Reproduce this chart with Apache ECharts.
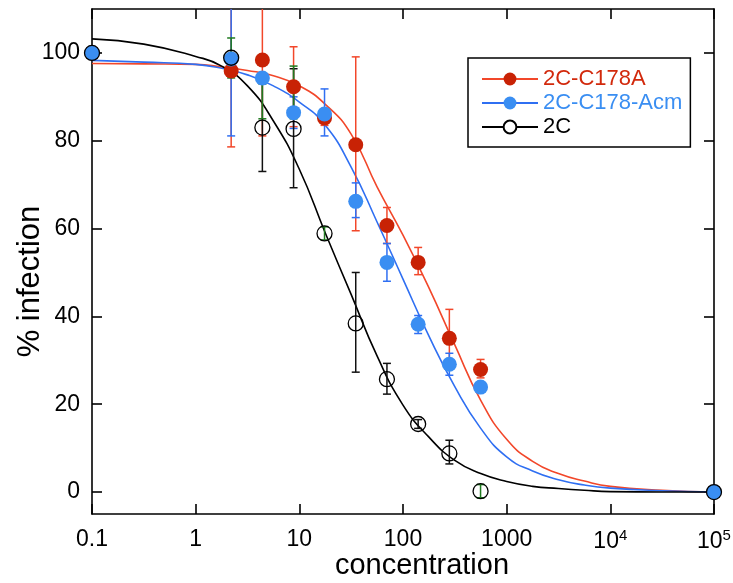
<!DOCTYPE html>
<html>
<head>
<meta charset="utf-8">
<script src="https://cdn.jsdelivr.net/npm/echarts@6/dist/echarts.min.js"></script>
<style>
  html, body { margin: 0; padding: 0; background: #fff; }
  #main { width: 733px; height: 583px; }
</style>
</head>
<body>
<div id="main"></div>
<script>
var FONT = 'Liberation Sans, Arial, Helvetica, sans-serif';

// concentrations of the measured points
var conc = [2.2, 4.4, 8.8, 17.5, 35, 70, 140, 280, 560];
// end points shared by the three sets
var anchorX = [0.1, 100000];
var anchorY = [100, 0];

// 2C-C178A
var redY = [95.9, 98.4, 92.3, 85.2, 79.1, 60.7, 52.3, 35.0, 27.9];
var redLow = [78.6, 81.1, 83.2, 83.5, 59.5, 56.6, 49.5, 28.4, 26.0];
var redHigh = [113, 115.7, 101.4, 87.0, 99.1, 64.8, 55.7, 41.6, 30.2];

// 2C-C178-Acm
var blueY = [98.6, 94.3, 86.4, 86.1, 66.2, 52.3, 38.2, 29.1, 23.9];
var blueLow = [81.1, null, 82.8, 81.1, 62.5, 48.0, 36.1, 26.6, null];
var blueHigh = [116, null, 90.0, 91.8, 70.4, 56.6, 40.2, 31.6, null];

// 2C
var blackY = [98.9, 83.0, 82.7, 58.9, 38.4, 25.7, 15.5, 8.8, 0.2];
var blackLow = [null, 73.0, 69.3, null, 27.3, 22.3, 14.5, 6.4, null];
var blackHigh = [null, 93.0, 96.4, null, 50.0, 29.3, 16.5, 11.8, null];
var greenLow = [94.3, 85.0, 85.0, 57.4, null, null, null, null, -1.3];
var greenHigh = [103.4, 93.0, 97.0, 60.4, null, null, null, null, 1.7];

// fitted curves, read every quarter decade
var curveX = [0.1, 0.316, 1, 1.78, 3.16, 5.62, 10, 17.8, 31.6, 56.2, 100, 178, 316, 562, 1000, 1780, 3160, 5620, 10000, 31600, 100000];
var redCurveY = [97.6, 97.5, 97.4, 96.8, 96.0, 94.8, 92.5, 88.3, 81.5, 69.5, 58.5, 46.5, 33.5, 20.9, 12.0, 7.0, 4.2, 2.5, 1.3, 0.4, 0];
var blueCurveY = [98.3, 97.9, 97.4, 96.5, 95.0, 92.5, 88.8, 83.5, 74.0, 61.5, 48.5, 35.5, 24.0, 14.5, 8.0, 4.8, 2.8, 1.6, 0.9, 0.3, 0];
var blackCurveY = [103.2, 102.0, 99.2, 97.0, 92.5, 84.5, 73.5, 59.0, 45.0, 31.0, 19.8, 12.5, 7.2, 4.2, 2.4, 1.3, 0.8, 0.4, 0.1, 0, 0];

var xTicks = [0.1, 1, 10, 100, 1000, 10000, 100000];
var yTicks = [0, 20, 40, 60, 80, 100];

var names = ['2C-C178A', '2C-C178-Acm', '2C'];
var lineColors = ['#f2472a', '#2f6ff2', '#000000'];
var dotColors = ['#c82205', '#3a8ef2', '#000000'];
var textColors = ['#d2290c', '#3a8ef2', '#000000'];

function zip(xs, ys) {
  var out = [];
  for (var i = 0; i < xs.length; i++) out.push([xs[i], ys[i]]);
  return out;
}
function bars(low, high) {
  var out = [];
  for (var i = 0; i < conc.length; i++) {
    if (low[i] != null) out.push([conc[i], low[i], high[i]]);
  }
  return out;
}
function points(ys) {
  return zip(conc, ys).concat(zip(anchorX, anchorY));
}

function errRender(color) {
  return function (params, api) {
    var x = api.value(0);
    var lo = api.coord([x, api.value(1)]);
    var hi = api.coord([x, api.value(2)]);
    var w = 4;
    var st = { stroke: color, lineWidth: 1.5 };
    return {
      type: 'group',
      children: [
        { type: 'line', shape: { x1: lo[0], y1: lo[1], x2: hi[0], y2: hi[1] }, style: st },
        { type: 'line', shape: { x1: lo[0] - w, y1: lo[1], x2: lo[0] + w, y2: lo[1] }, style: st },
        { type: 'line', shape: { x1: hi[0] - w, y1: hi[1], x2: hi[0] + w, y2: hi[1] }, style: st }
      ]
    };
  };
}

function supLabel(v) {
  var p = Math.round(Math.log10(v));
  if (p === -1) return '0.1';
  if (p <= 3) return String(Math.pow(10, p));
  return '10{sup|' + p + '}';
}

var axisLine = { show: true, onZero: false, lineStyle: { color: '#000', width: 1.6 } };
var tick = { show: true, inside: true, length: 10, lineStyle: { color: '#000', width: 1.6 } };

function curve(i, ys, itemStyle) {
  return {
    name: names[i], type: 'line', data: zip(curveX, ys),
    smooth: 0.5,
    symbol: 'circle', symbolSize: 14, showSymbol: false,
    itemStyle: itemStyle, lineStyle: { color: lineColors[i], width: 1.6 }, z: 2
  };
}

var chart = echarts.init(document.getElementById('main'));
chart.setOption({
  animation: false,
  backgroundColor: '#fff',
  grid: { left: 92, right: 19, top: 9, bottom: 69, outerBoundsMode: 'none', containLabel: false },
  legend: {
    data: names.map(function (n, i) { return { name: n, textStyle: { color: textColors[i] } }; }),
    orient: 'vertical',
    left: 468,
    top: 58,
    padding: [10, 8, 9, 13],
    itemGap: 2,
    itemWidth: 56,
    itemHeight: 16,
    borderColor: '#000',
    borderWidth: 1.5,
    borderRadius: 0,
    backgroundColor: '#fff',
    selectedMode: false,
    textStyle: { fontFamily: FONT, fontSize: 22, lineHeight: 22 }
  },
  xAxis: [{
    type: 'log',
    logBase: 10,
    min: 0.1,
    max: 100000,
    axisLine: axisLine,
    axisTick: Object.assign({ customValues: xTicks }, tick),
    splitLine: { show: false },
    axisLabel: {
      customValues: xTicks,
      margin: 14,
      color: '#000',
      fontFamily: FONT,
      fontSize: 23,
      formatter: supLabel,
      rich: { sup: { fontSize: 15, fontFamily: FONT, color: '#000', padding: [0, 0, 12, 0] } }
    },
    name: 'concentration',
    nameLocation: 'middle',
    nameMoveOverlap: false,
    nameGap: 37,
    nameTextStyle: { fontFamily: FONT, fontSize: 29, color: '#000', padding: [0, 0, 0, 38] }
  }, {
    type: 'log',
    logBase: 10,
    min: 0.1,
    max: 100000,
    position: 'top',
    axisLine: axisLine,
    axisTick: Object.assign({ customValues: xTicks }, tick),
    axisLabel: { show: false },
    splitLine: { show: false }
  }],
  yAxis: [{
    type: 'value',
    min: -5,
    max: 110,
    axisLine: axisLine,
    axisTick: Object.assign({ customValues: yTicks }, tick),
    splitLine: { show: false },
    axisLabel: { customValues: yTicks, margin: 12, color: '#000', fontFamily: FONT, fontSize: 23 },
    name: '% infection',
    nameLocation: 'middle',
    nameMoveOverlap: false,
    nameRotate: 90,
    nameGap: 46,
    nameTextStyle: { fontFamily: FONT, fontSize: 31, color: '#000', padding: [0, 40, 0, 0] }
  }, {
    type: 'value',
    min: -5,
    max: 110,
    position: 'right',
    axisLine: axisLine,
    axisTick: Object.assign({ customValues: yTicks }, tick),
    axisLabel: { show: false },
    splitLine: { show: false }
  }],
  series: [
    curve(0, redCurveY, { color: dotColors[0] }),
    curve(1, blueCurveY, { color: dotColors[1] }),
    curve(2, blackCurveY, { color: '#fff', borderColor: '#000', borderWidth: 1.3 }),
    { type: 'custom', renderItem: errRender(lineColors[0]), data: bars(redLow, redHigh), clip: true, z: 3 },
    { type: 'custom', renderItem: errRender(lineColors[1]), data: bars(blueLow, blueHigh), clip: true, z: 3 },
    { type: 'custom', renderItem: errRender('#111'), data: bars(blackLow, blackHigh), clip: true, z: 3 },
    { type: 'custom', renderItem: errRender('#1f7a1f'), data: bars(greenLow, greenHigh), clip: true, z: 3 },
    {
      type: 'scatter', data: points(redY), symbol: 'circle', symbolSize: 15, clip: false,
      itemStyle: { color: dotColors[0], opacity: 1 }, z: 4
    },
    {
      type: 'scatter', data: points(blueY), symbol: 'circle', symbolSize: 15, clip: false,
      itemStyle: { color: dotColors[1], opacity: 1 }, z: 5
    },
    {
      type: 'scatter', data: points(blackY), symbol: 'circle', symbolSize: 15, clip: false,
      itemStyle: { color: 'rgba(0,0,0,0)', borderColor: '#000', borderWidth: 1.3, opacity: 1 }, z: 6
    }
  ]
});
</script>
</body>
</html>
